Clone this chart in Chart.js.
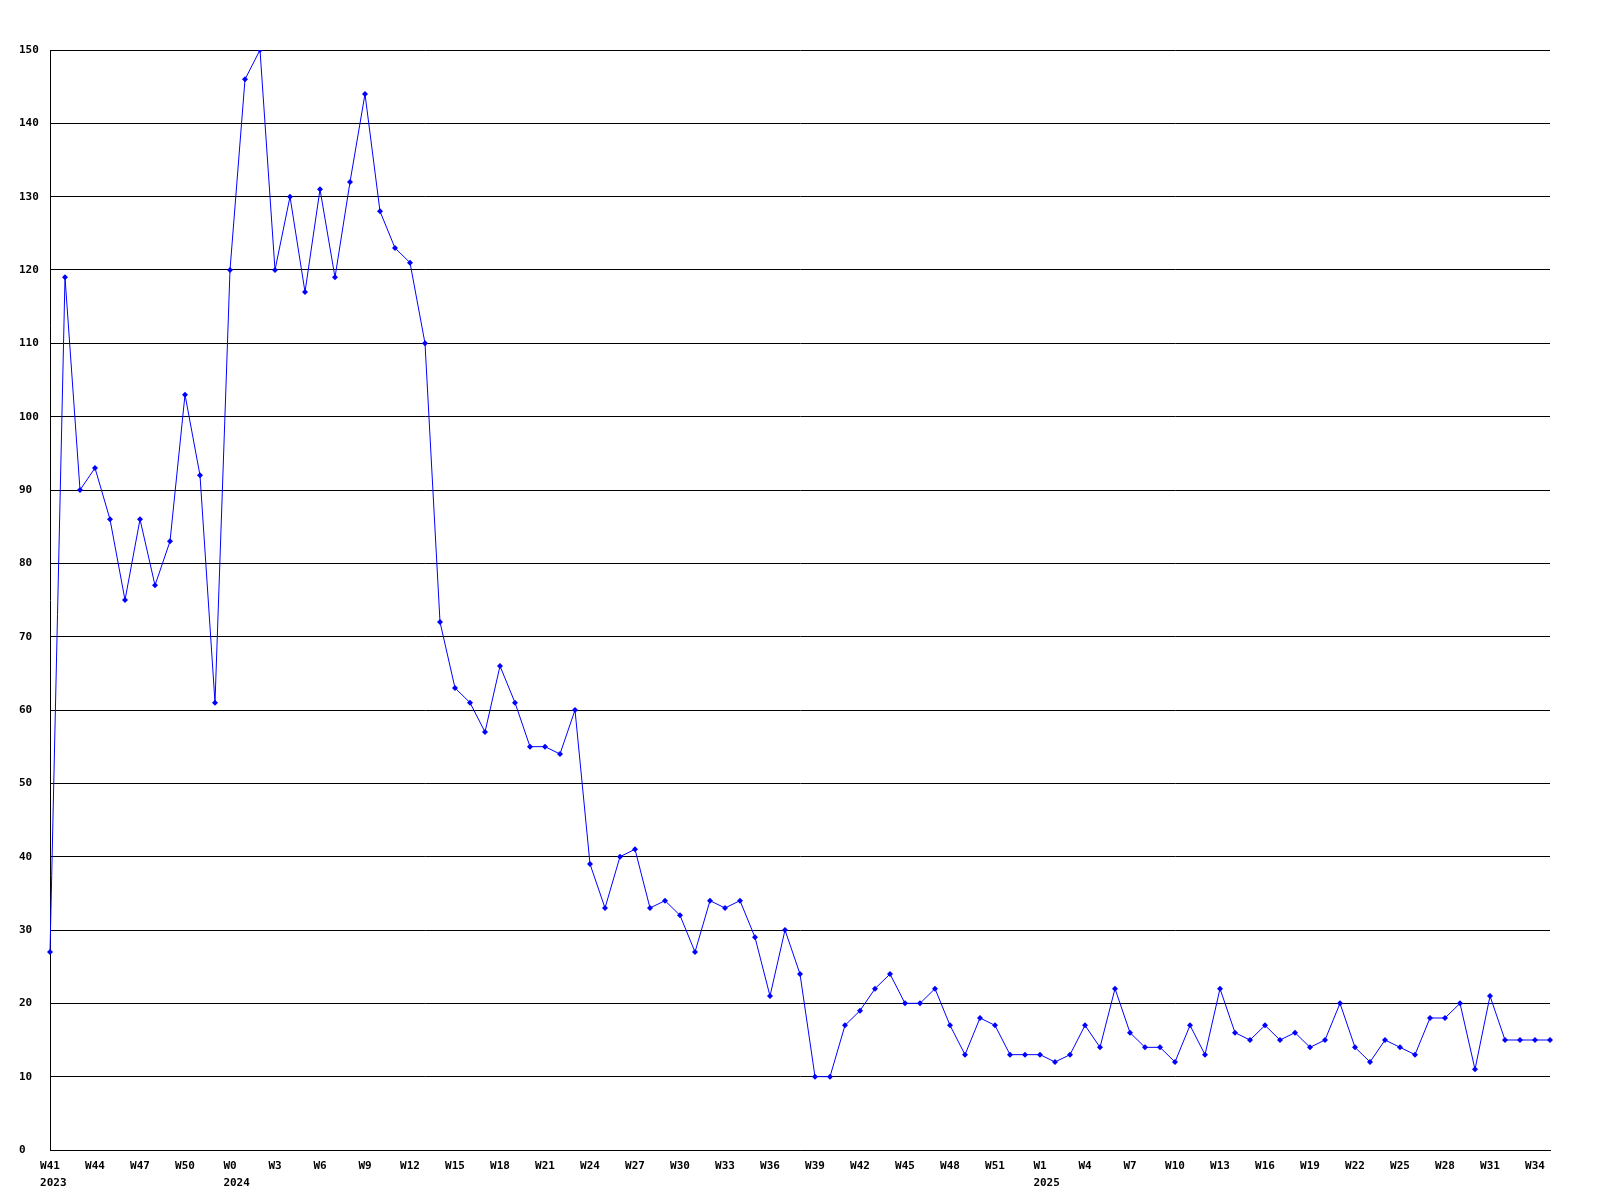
<!DOCTYPE html>
<html>
<head>
<meta charset="utf-8">
<script src="https://cdn.jsdelivr.net/npm/chart.js@4"></script>
<style>
  html, body { margin: 0; padding: 0; background: #fff; }
  #wrap { width: 1600px; height: 1200px; }
</style>
</head>
<body>
<div id="wrap"><canvas id="weeklyChart"></canvas></div>
<script>
// week labels per year
const weeks2023 = ["W41","W42","W43","W44","W45","W46","W47","W48","W49","W50","W51","W52"];
const weeks2024 = ["W0","W1","W2","W3","W4","W5","W6","W7","W8","W9","W10","W11","W12","W13","W14","W15","W16","W17","W18","W19","W20","W21","W22","W23","W24","W25","W26","W27","W28","W29","W30","W31","W32","W33","W34","W35","W36","W37","W38","W39","W40","W41","W42","W43","W44","W45","W46","W47","W48","W49","W50","W51","W52"];
const weeks2025 = ["W0","W1","W2","W3","W4","W5","W6","W7","W8","W9","W10","W11","W12","W13","W14","W15","W16","W17","W18","W19","W20","W21","W22","W23","W24","W25","W26","W27","W28","W29","W30","W31","W32","W33","W34","W35"];

const weeklyCounts = [
  27, 119, 90, 93, 86, 75, 86, 77, 83, 103, 92, 61,
  120, 146, 150, 120, 130, 117, 131, 119, 132, 144, 128, 123, 121,
  110, 72, 63, 61, 57, 66, 61, 55, 55, 54, 60,
  39, 33, 40, 41, 33, 34, 32, 27, 34, 33, 34, 29, 21, 30, 24,
  10, 10, 17, 19, 22, 24, 20, 20, 22, 17, 13, 18, 17, 13, 13, 13, 12, 13, 17, 14, 22, 16, 14, 14, 12, 17,
  13, 22, 16, 15, 17, 15, 16, 14, 15, 20, 14, 12, 15, 14, 13, 18, 18, 20, 11, 21, 15, 15, 15, 15
];

const labelStep = 3;

const labels = [...weeks2023, ...weeks2024, ...weeks2025];
const years = [
  ...weeks2023.map(() => "2023"),
  ...weeks2024.map(() => "2024"),
  ...weeks2025.map(() => "2025"),
];

const tickFont = { family: "'DejaVu Sans Mono', monospace", size: 11, weight: "bold", lineHeight: 1.5 };

const ctx = document.getElementById("weeklyChart").getContext("2d");
let lastYearShown = null;

new Chart(ctx, {
  type: "line",
  data: {
    labels: labels,
    datasets: [
      {
        data: weeklyCounts,
        borderColor: "#0000ff",
        backgroundColor: "#0000ff",
        borderWidth: 1,
        tension: 0,
        pointStyle: "rectRot",
        pointRadius: 3,
        pointBorderWidth: 0,
        pointBackgroundColor: "#0000ff",
      },
    ],
  },
  options: {
    responsive: true,
    maintainAspectRatio: false,
    animation: false,
    layout: { padding: { left: 19, top: 50, right: 50, bottom: 0 } },
    plugins: { legend: { display: false }, tooltip: { enabled: false } },
    scales: {
      x: {
        offset: false,
        grid: { display: false, drawTicks: false },
        border: { display: true, color: "#000", width: 1 },
        afterFit: (scale) => { scale.height = 50; },
        ticks: {
          autoSkip: false,
          maxRotation: 0,
          minRotation: 0,
          padding: 8,
          color: "#000",
          font: tickFont,
          callback: function (value, index) {
            if (index % labelStep !== 0) return "";
            const wk = labels[index];
            const y = years[index];
            if (index === 0) lastYearShown = null;
            if (y !== lastYearShown) {
              lastYearShown = y;
              // monospace: lead with spaces so the year starts where the week label starts
              return [wk, " ".repeat(4 - wk.length) + y];
            }
            return wk;
          },
        },
      },
      y: {
        min: 0,
        max: 150,
        grid: { color: "#000", lineWidth: 1, drawTicks: false },
        border: { display: true, color: "#000", width: 1 },
        afterFit: (scale) => { scale.width = 31; },
        ticks: {
          stepSize: 10,
          crossAlign: "far",
          color: "#000",
          font: tickFont,
        },
      },
    },
  },
});
</script>
</body>
</html>
